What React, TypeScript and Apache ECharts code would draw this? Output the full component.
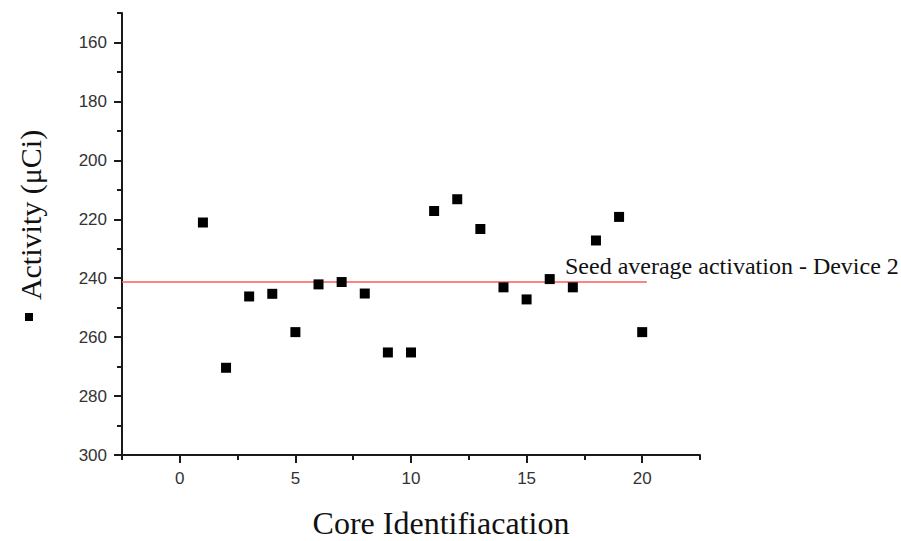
import React, { useEffect, useRef } from 'react';
import * as echarts from 'echarts';

const coreIds = [1, 2, 3, 4, 5, 6, 7, 8, 9, 10, 11, 12, 13, 14, 15, 16, 17, 18, 19, 20];
const activity = [221.1, 270.4, 246.2, 245.3, 258.3, 242.1, 241.3, 245.2, 265.2, 265.2, 217.2, 213.2, 223.3, 243.1, 247.2, 240.3, 243.1, 227.2, 219.2, 258.3];
const averageLineX = [-2.5, 20.2];
const averageValue = 241.3;
const yMajorTicks = [160, 180, 200, 220, 240, 260, 280, 300];
const yMinorTicks = [150, 170, 190, 210, 230, 250, 270, 290];
const xMajorTicks = [0, 5, 10, 15, 20];
const xMinorTicks = [-2.5, 2.5, 7.5, 12.5, 17.5, 22.5];
const averageLabel = 'Seed average activation - Device 2';
const xTitle = 'Core Identifiacation';
const yTitle = 'Activity (μCi)';

const AXIS_COLOR = '#1a1a1a';
const LABEL_COLOR = '#333';

export default function App() {
  const ref = useRef<HTMLDivElement>(null);
  useEffect(() => {
    document.body.style.margin = '0';
    if (!ref.current) return;
    const chart = echarts.init(ref.current, undefined, { renderer: 'svg' });
    const axisLineStyle = { color: AXIS_COLOR, width: 2 };
    const labelStyle = { fontSize: 17, color: LABEL_COLOR, fontFamily: 'Liberation Sans, Arial, sans-serif' };
    chart.setOption({
      animation: false,
      backgroundColor: '#fff',
      grid: { left: 122, top: 13, width: 578, height: 442, containLabel: false },
      xAxis: [
        {
          type: 'value', min: -2.5, max: 22.5,
          axisLine: { show: true, onZero: false, lineStyle: axisLineStyle },
          axisTick: { show: true, customValues: xMajorTicks, length: 8, lineStyle: axisLineStyle },
          axisLabel: { show: true, customValues: xMajorTicks, margin: 15, ...labelStyle },
          splitLine: { show: false },
        },
        {
          type: 'value', min: -2.5, max: 22.5, position: 'bottom',
          axisLine: { show: false, onZero: false },
          axisTick: { show: true, customValues: xMinorTicks, length: 5, lineStyle: axisLineStyle },
          axisLabel: { show: false },
          splitLine: { show: false },
        },
      ],
      yAxis: [
        {
          type: 'value', min: 150, max: 300, inverse: true,
          axisLine: { show: true, onZero: false, lineStyle: axisLineStyle },
          axisTick: { show: true, customValues: yMajorTicks, length: 8, lineStyle: axisLineStyle },
          axisLabel: { show: true, customValues: yMajorTicks, margin: 15, ...labelStyle },
          splitLine: { show: false },
        },
        {
          type: 'value', min: 150, max: 300, inverse: true, position: 'left',
          axisLine: { show: false, onZero: false },
          axisTick: { show: true, customValues: yMinorTicks, length: 5, lineStyle: axisLineStyle },
          axisLabel: { show: false },
          splitLine: { show: false },
        },
      ],
      series: [
        {
          type: 'line',
          data: averageLineX.map((x) => [x, averageValue]),
          symbol: 'none',
          lineStyle: { color: '#ff5a5a', width: 1.5 },
          z: 1,
        },
        {
          type: 'scatter',
          data: coreIds.map((x, i) => [x, activity[i]]),
          symbol: 'rect',
          symbolSize: 10,
          itemStyle: { color: '#000', opacity: 1 },
          z: 3,
        },
      ],
      graphic: [
        {
          type: 'text', x: 565, y: 266,
          style: { text: averageLabel, fontSize: 24, fontFamily: 'Liberation Serif, Times New Roman, serif', fill: '#111', textAlign: 'left', textVerticalAlign: 'middle' },
        },
        {
          type: 'text', x: 441, y: 523,
          style: { text: xTitle, fontSize: 32, fontFamily: 'Liberation Serif, Times New Roman, serif', fill: '#111', textAlign: 'center', textVerticalAlign: 'middle' },
        },
        {
          type: 'text', x: 30, y: 215, rotation: Math.PI / 2,
          style: { text: yTitle, fontSize: 30, fontFamily: 'Liberation Serif, Times New Roman, serif', fill: '#111', textAlign: 'center', textVerticalAlign: 'middle' },
        },
        {
          type: 'rect', shape: { x: 25, y: 313, width: 8, height: 8 },
          style: { fill: '#000' },
        },
      ],
    });
    return () => chart.dispose();
  }, []);
  return <div ref={ref} style={{ width: 901, height: 541 }} />;
}
